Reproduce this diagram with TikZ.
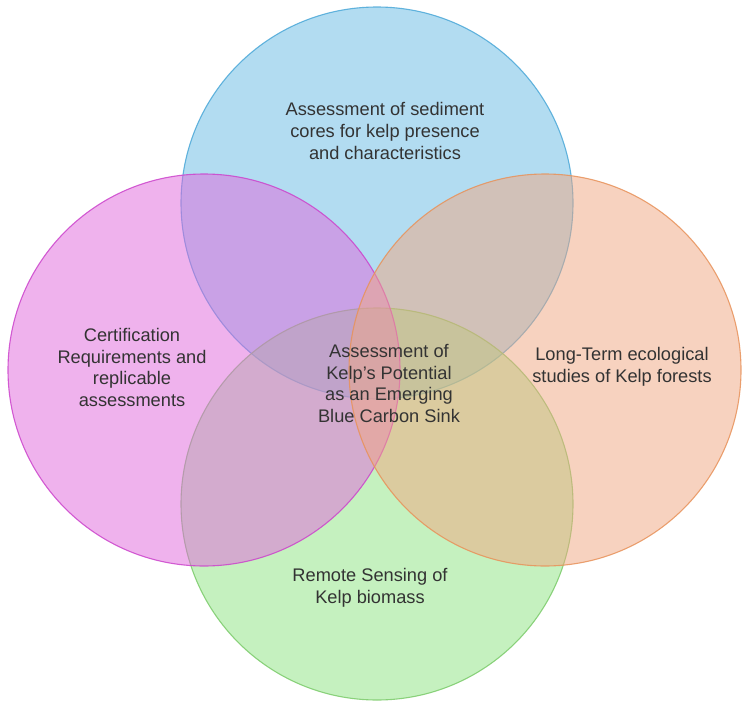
\documentclass[tikz,border=0pt]{standalone}
\usepackage{fontspec}
\setmainfont{Liberation Sans}
\definecolor{cblue}{RGB}{103,187,229}
\definecolor{cmag}{RGB}{225,103,221}
\definecolor{corange}{RGB}{241,167,129}
\definecolor{cgreen}{RGB}{141,229,129}
\definecolor{sblue}{RGB}{75,168,216}
\definecolor{smag}{RGB}{204,68,204}
\definecolor{sorange}{RGB}{232,146,90}
\definecolor{sgreen}{RGB}{123,203,106}
\definecolor{txt}{RGB}{51,51,51}
\tikzset{
  venn/.style={fill opacity=0.5, draw opacity=0.85, line width=1.1pt},
  lbl/.style={align=center, text=txt, font=\fontsize{18.3pt}{21.8pt}\selectfont, inner sep=0pt}
}
\begin{document}
\begin{tikzpicture}[x=1bp,y=-1bp]
\useasboundingbox (0,0) rectangle (742,702);
\fill[white] (0,0) rectangle (742,702);
\draw[venn, fill=cblue, draw=sblue] (377,203) circle[radius=196];
\draw[venn, fill=cgreen, draw=sgreen] (377,504) circle[radius=196];
\draw[venn, fill=cmag, draw=smag] (204,370) circle[radius=196];
\draw[venn, fill=corange, draw=sorange] (545,370) circle[radius=196];
\node[lbl] (top) at (385,131) {Assessment of sediment\\cores for kelp presence\\and characteristics};
\node[lbl] (left) at (132,367.5) {Certification\\Requirements and\\replicable\\assessments};
\node[lbl] (center) at (389,383.5) {Assessment of\\Kelp{\char"27}s Potential\\as an Emerging\\Blue Carbon Sink};
\node[lbl] (right) at (622,367) {Long-Term ecological\\studies of Kelp forests};
\node[lbl] (bottom) at (370,588) {Remote Sensing of\\Kelp biomass};
\end{tikzpicture}
\end{document}
